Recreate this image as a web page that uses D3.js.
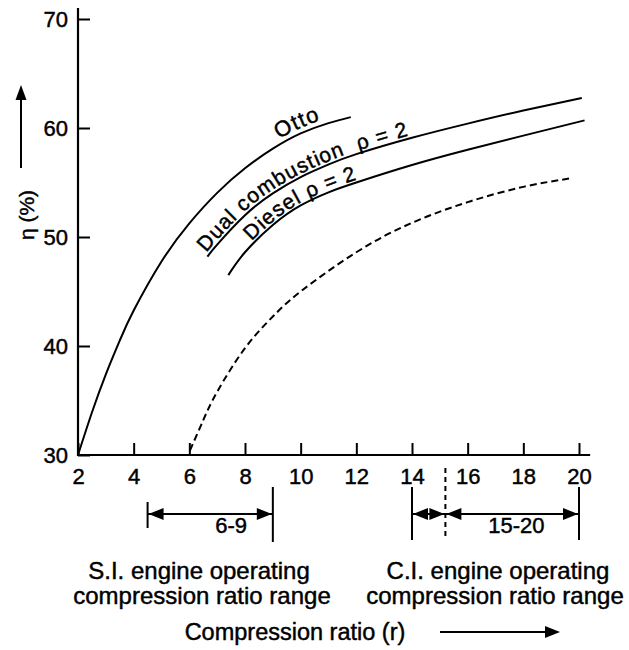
<!DOCTYPE html>
<html>
<head>
<meta charset="utf-8">
<script src="https://d3js.org/d3.v7.min.js"></script>
<style>
  body { margin: 0; background: #fff; }
  svg text { font-family: "Liberation Sans", Arial, Helvetica, sans-serif; fill: #000; stroke: #000; stroke-width: 0.45px; }
</style>
</head>
<body>
<svg id="chart" width="629" height="650"></svg>
<script>
// compression ratio r vs efficiency eta (%)
const ottoR = [2, 2.5, 3, 3.5, 4, 5, 6, 7, 8, 9, 10, 11, 11.8]
const ottoEta = [30, 33.9, 37.4, 40.5, 43.25, 47.75, 51.25, 54.05, 56.3, 58.1, 59.5, 60.45, 61.0]

const dualR = [6.65, 7, 8, 9, 10, 11, 12, 14, 16, 18, 20.1]
const dualEta = [48.2, 49.3, 52.0, 54.0, 55.5, 56.65, 57.6, 59.1, 60.4, 61.6, 62.75]

const dieselR = [7.4, 8, 9, 10, 11, 12, 14, 16, 18, 20.2]
const dieselEta = [46.5, 48.6, 51.1, 52.9, 54.1, 55.0, 56.6, 58.0, 59.3, 60.7]

const dashR = [6.02, 6.5, 7, 8, 9, 10, 12, 14, 16, 18, 19.75]
const dashEta = [30.4, 33.2, 35.8, 39.8, 42.7, 45.0, 48.6, 51.3, 53.2, 54.6, 55.4]

const xTicks = [2, 4, 6, 8, 10, 12, 14, 16, 18, 20]
const yTicks = [30, 40, 50, 60, 70]

// operating ranges (bars at these r values)
const siRange = [4.5, 9]
const siLabel = "6-9"
const ciRange = [14, 15.2, 20]
const ciLabel = "15-20"

const svg = d3.select("#chart")
const xs = d3.scaleLinear().domain([2, 20]).range([78, 579])
const ys = d3.scaleLinear().domain([30, 70]).range([455, 19])

const font = 22

/*
axes
*/
const gx = svg.append("g")
  .attr("transform", "translate(0," + ys(30) + ")")
  .call(d3.axisBottom(xs).tickValues(xTicks).tickSizeInner(-12).tickSizeOuter(0).tickPadding(13))
const gy = svg.append("g")
  .attr("transform", "translate(" + xs(2) + ",0)")
  .call(d3.axisLeft(ys).tickValues(yTicks).tickSizeInner(-12).tickSizeOuter(0).tickPadding(10))

;[gx, gy].forEach(function(g){
  g.select(".domain").remove()
  g.selectAll(".tick line").attr("stroke", "#000").attr("stroke-width", 2)
  g.selectAll(".tick text").attr("font-size", font).attr("font-family", null)
})

// axis lines run a bit past the last ticks
svg.append("line").attr("x1", xs(2)).attr("x2", xs(20.4))
  .attr("y1", ys(30)).attr("y2", ys(30)).attr("stroke", "#000").attr("stroke-width", 2.2)
svg.append("line").attr("x1", xs(2)).attr("x2", xs(2))
  .attr("y1", ys(30) + 1).attr("y2", ys(71)).attr("stroke", "#000").attr("stroke-width", 2.2)

/*
curves
*/
const line = d3.line()
  .x(d => xs(d[0]))
  .y(d => ys(d[1]))
  .curve(d3.curveNatural)

function addCurve(id, rs, etas, dash){
  return svg.append("path")
    .attr("id", id)
    .attr("d", line(d3.zip(rs, etas)))
    .attr("fill", "none")
    .attr("stroke", "#000")
    .attr("stroke-width", 2)
    .attr("stroke-dasharray", dash)
}
const ottoPath = addCurve("otto", ottoR, ottoEta, null)
const dualPath = addCurve("dual", dualR, dualEta, null)
const dieselPath = addCurve("diesel", dieselR, dieselEta, null)
addCurve("dashed", dashR, dashEta, "7,4")

function lenAtX(node, px){ // binary search along the path for the length where x == px
  let lo = 0, hi = node.getTotalLength()
  for(let i = 0; i < 40; i++){
    const mid = (lo + hi) / 2
    if(node.getPointAtLength(mid).x < px) lo = mid
    else hi = mid
  }
  return lo
}

function curveLabel(path, id, txt, startR, dy, size){
  svg.append("text")
    .attr("font-size", size)
    .attr("dy", dy)
    .attr("letter-spacing", 1)
    .style("white-space", "pre")
    .append("textPath")
      .attr("href", "#" + id)
      .attr("startOffset", lenAtX(path.node(), xs(startR)))
      .text(txt)
}
curveLabel(ottoPath, "otto", "Otto", 9.3, -5, 22)
curveLabel(dualPath, "dual", "Dual combustion  \u03c1 = 2", 6.7, -3, 21)
curveLabel(dieselPath, "diesel", "Diesel \u03c1 = 2", 8.3, -2.5, 21)

/*
range markers under the axis
*/
function arrowHead(x, y, dir){ // dir -1 points left, 1 points right
  const L = 15, h = 6
  svg.append("path")
    .attr("d", "M" + x + "," + y + "L" + (x - dir * L) + "," + (y - h) + "L" + (x - dir * L) + "," + (y + h) + "Z")
    .attr("fill", "#000")
}
function vbar(r, y1, y2, dash){
  svg.append("line").attr("x1", xs(r)).attr("x2", xs(r)).attr("y1", y1).attr("y2", y2)
    .attr("stroke", "#000").attr("stroke-width", 2).attr("stroke-dasharray", dash)
}
function hspan(r1, r2, y){
  svg.append("line").attr("x1", xs(r1)).attr("x2", xs(r2)).attr("y1", y).attr("y2", y)
    .attr("stroke", "#000").attr("stroke-width", 2)
  arrowHead(xs(r1) + 1, y, -1)
  arrowHead(xs(r2) - 1, y, 1)
}
const arrowY = 514

vbar(siRange[0], 502, 528)
vbar(siRange[1], 487, 542)
hspan(siRange[0], siRange[1], arrowY)
svg.append("text").attr("x", xs(7.5)).attr("y", 533).attr("text-anchor", "middle")
  .attr("font-size", font).text(siLabel)

vbar(ciRange[0], 487, 540)
vbar(ciRange[1], 468, 538, "5,4")
vbar(ciRange[2], 487, 540)
hspan(ciRange[0], ciRange[1], arrowY)
hspan(ciRange[1], ciRange[2], arrowY)
svg.append("text").attr("x", xs(17.75)).attr("y", 533).attr("text-anchor", "middle")
  .attr("font-size", font).text(ciLabel)

const notes = svg.append("g").attr("font-size", 24).attr("text-anchor", "middle")
notes.append("text").attr("x", 199).attr("y", 579).text("S.I. engine operating")
notes.append("text").attr("x", 202).attr("y", 604).text("compression ratio range")
notes.append("text").attr("x", 498).attr("y", 579).text("C.I. engine operating")
notes.append("text").attr("x", 495).attr("y", 604).text("compression ratio range")

/*
axis titles with their arrows
*/
svg.append("text").attr("x", 295).attr("y", 640).attr("text-anchor", "middle")
  .attr("font-size", 23.5).text("Compression ratio (r)")
svg.append("line").attr("x1", 440).attr("x2", 548).attr("y1", 632).attr("y2", 632)
  .attr("stroke", "#000").attr("stroke-width", 2)
arrowHead(560, 632, 1)

svg.append("text").attr("transform", "translate(34,215) rotate(-90)")
  .attr("text-anchor", "middle").attr("font-size", 21).text("\u03b7 (%)")
svg.append("line").attr("x1", 21).attr("x2", 21).attr("y1", 168).attr("y2", 98)
  .attr("stroke", "#000").attr("stroke-width", 2)
svg.append("path").attr("d", "M21,85L15.5,100L26.5,100Z").attr("fill", "#000")
</script>
</body>
</html>
